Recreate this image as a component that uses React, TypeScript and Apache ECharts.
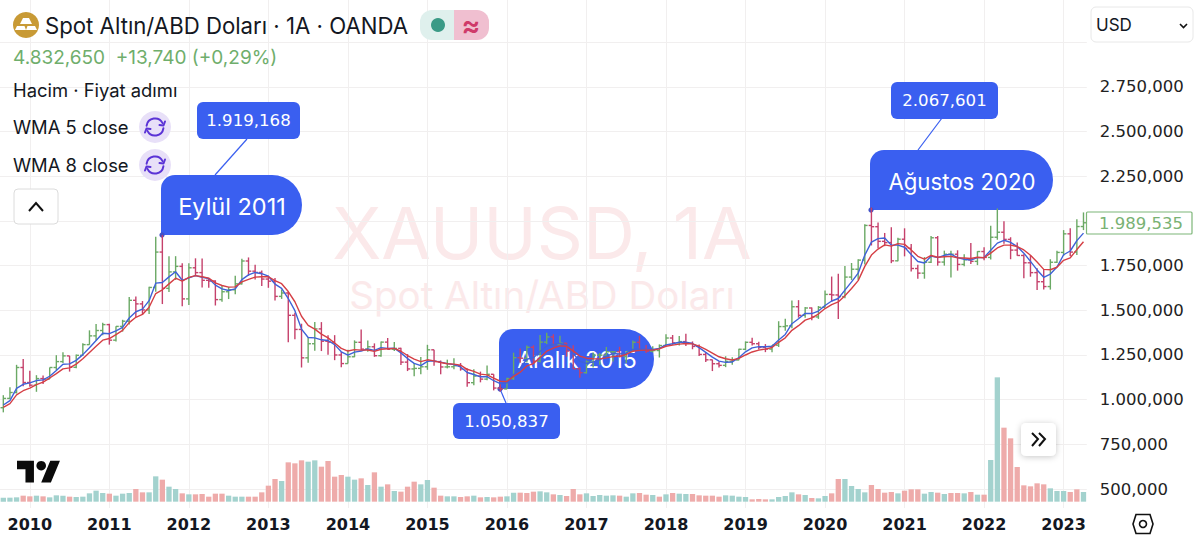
import React, { useEffect, useRef } from "react";
import * as echarts from "echarts";

const firstYear = 2009;
const firstMonth = 8; // September 2009, zero-based
const barCount = 164;

const opens = [955,1007,1040,1180,1096,
1081,1118,1115,1180,1213,1245,1181,1248,1308,1357,1387,1420,
1333,1410,1439,1556,1536,1502,1628,1826,1623,1715,1746,
1564,1738,1711,1668,1664,1560,1604,1615,1648,1776,1719,1712,
1675,1663,1578,1597,1472,1393,1234,1313,1396,1327,1322,1250,
1202,1240,1321,1283,1296,1246,1322,1282,1287,1210,1172,1175,
1184,1279,1213,1183,1184,1190,1172,1095,1132,1115,1142,1065,
1060,1118,1235,1232,1293,1215,1322,1351,1309,1316,1272,1173,
1151,1211,1249,1249,1268,1268,1242,1269,1321,1280,1271,1275,
1303,1345,1318,1325,1315,1298,1253,1223,1201,1192,1214,1222,
1282,1321,1313,1292,1283,1305,1409,1413,1520,1472,1513,1463,
1517,1589,1586,1577,1686,1730,1781,1975,1968,1886,1879,1777,
1898,1847,1734,1708,1769,1906,1770,1814,1814,1757,1783,1774,
1829,1796,1909,1937,1897,1837,1807,1766,1711,1660,1633,1769,
1824,1928,1826,1969];
const highs = [1025,1070,1195,1227,
1162,1137,1135,1180,1249,1265,1245,1253,1316,1388,1424,1431,
1425,1411,1447,1575,1577,1552,1632,1912,1921,1803,1803,1764,
1764,1791,1790,1677,1668,1642,1631,1693,1788,1796,1755,1723,
1694,1681,1617,1604,1487,1425,1348,1434,1434,1361,1361,1267,
1280,1332,1392,1331,1315,1325,1345,1323,1290,1255,1205,1239,
1307,1280,1219,1224,1232,1205,1174,1170,1157,1191,1142,1088,
1123,1263,1287,1303,1304,1362,1375,1366,1357,1318,1304,1182,
1220,1264,1261,1295,1270,1296,1270,1331,1357,1306,1299,1309,
1366,1362,1356,1369,1326,1309,1266,1224,1214,1243,1237,1285,
1326,1347,1324,1311,1305,1439,1453,1555,1557,1518,1516,1524,
1611,1689,1704,1748,1765,1786,1981,2075,1992,1933,1965,1906,
1959,1871,1755,1798,1916,1916,1834,1834,1836,1814,1877,1831,
1853,1974,2070,1998,1909,1879,1814,1808,1735,1730,1786,1833,
1949,1960,2009,2048];
const lows = [929,1003,1035,1075,
1072,1044,1088,1115,1165,1205,1157,1176,1244,1307,1330,1360,
1308,1325,1381,1420,1462,1478,1480,1604,1535,1603,1670,1523,
1530,1695,1628,1627,1527,1548,1563,1590,1644,1693,1672,1636,
1626,1555,1564,1321,1338,1180,1207,1274,1272,1251,1221,1182,
1202,1238,1277,1268,1240,1240,1280,1273,1194,1160,1131,1142,
1167,1190,1142,1175,1170,1162,1072,1080,1097,1108,1052,1046,
1060,1111,1207,1208,1199,1208,1311,1302,1305,1241,1171,1123,
1146,1180,1195,1240,1214,1236,1205,1267,1271,1261,1264,1236,
1302,1307,1303,1301,1282,1245,1211,1160,1180,1182,1196,1221,
1276,1303,1281,1266,1266,1295,1386,1400,1459,1459,1445,1452,
1517,1548,1451,1568,1670,1671,1757,1863,1848,1859,1764,1775,
1802,1717,1676,1677,1765,1750,1750,1684,1722,1746,1759,1753,
1780,1785,1895,1872,1786,1805,1680,1688,1614,1617,1616,1765,
1804,1804,1810,1949];
const closes = [1007,1040,1180,1096,
1081,1118,1115,1180,1213,1245,1181,1248,1308,1357,1387,1420,
1333,1410,1439,1556,1536,1502,1628,1826,1623,1715,1746,1564,
1738,1711,1668,1664,1560,1604,1615,1648,1776,1719,1712,1675,
1663,1578,1597,1472,1393,1234,1313,1396,1327,1322,1250,1202,
1240,1321,1283,1296,1246,1322,1282,1287,1210,1172,1175,1184,
1279,1213,1183,1184,1190,1172,1095,1132,1115,1142,1065,1060,
1118,1235,1232,1293,1215,1322,1351,1309,1316,1272,1173,1151,
1211,1249,1249,1268,1268,1242,1269,1321,1280,1271,1275,1303,
1345,1318,1325,1315,1298,1253,1223,1201,1192,1214,1222,1282,
1321,1313,1292,1283,1305,1409,1413,1520,1472,1513,1463,1517,
1589,1586,1577,1686,1730,1781,1975,1968,1886,1879,1777,1898,
1847,1734,1708,1769,1906,1770,1814,1814,1757,1783,1774,1829,
1796,1909,1937,1897,1837,1807,1766,1711,1660,1633,1769,1824,
1928,1826,1969,1990];
const wma5 = [970,995,1063,1086,1094,1107,1111,1131,1163,1198,1200,1220,1252,1291,1331,1372,1369,1385,1404,1457,
1492,1507,1554,1652,1656,1687,1716,1668,1682,1694,1685,1678,1641,1620,1611,1620,1672,1698,1712,1705,
1691,1647,1623,1566,1498,1395,1348,1346,1335,1331,1308,1268,1249,1266,1272,1284,1276,1291,1287,1288,
1262,1230,1203,1190,1214,1217,1210,1202,1196,1183,1152,1141,1128,1129,1106,1090,1095,1140,1176,1226,
1235,1270,1300,1309,1315,1305,1258,1214,1203,1211,1223,1244,1258,1256,1260,1281,1283,1281,1281,1287,
1306,1313,1321,1321,1314,1291,1265,1238,1216,1209,1211,1235,1268,1290,1297,1296,1299,1334,1365,1425,
1453,1483,1482,1496,1527,1552,1566,1613,1659,1708,1809,1882,1901,1905,1865,1865,1853,1812,1773,1765,
1803,1795,1808,1814,1795,1786,1781,1795,1796,1836,1876,1892,1880,1857,1820,1774,1726,1685,1703,1742,
1811,1832,1890,1932];
const wma8 = [957,978,1027,1050,1065,1084,1098,1121,1146,1172,1178,1199,1229,1264,1299,1333,1342,1364,1388,1431,
1461,1477,1517,1594,1615,1648,1680,1663,1684,1694,1688,1680,1654,1639,1630,1631,1659,1673,1686,1688,
1688,1666,1649,1605,1548,1467,1416,1395,1367,1346,1317,1287,1272,1280,1277,1278,1270,1282,1285,1287,
1271,1247,1227,1213,1223,1217,1208,1201,1199,1193,1170,1158,1143,1139,1120,1103,1102,1130,1154,1189,
1202,1236,1271,1289,1301,1299,1273,1244,1232,1229,1228,1234,1241,1244,1253,1271,1276,1277,1277,1284,
1299,1305,1311,1314,1312,1300,1282,1261,1240,1229,1222,1231,1250,1267,1277,1283,1292,1321,1346,1388,
1414,1445,1458,1479,1510,1532,1547,1582,1622,1666,1746,1809,1843,1866,1859,1873,1869,1838,1802,1787,
1807,1797,1800,1802,1794,1793,1790,1797,1794,1820,1849,1865,1865,1857,1838,1808,1770,1729,1727,1741,
1780,1794,1840,1884];
const volumes = [12,12,13,18,16,18,16,13,19,18,15,14,15,25,33,26,24,18,24,26,
38,28,28,76,66,45,38,25,22,22,23,15,24,24,18,15,15,15,15,28,
48,68,62,118,115,124,120,124,105,122,75,80,75,66,70,50,88,45,52,32,
30,45,60,52,65,42,18,16,16,14,16,18,13,14,13,15,16,27,27,26,
30,31,28,22,20,17,38,22,25,17,20,18,19,18,15,25,26,21,20,15,
22,26,24,23,23,19,18,18,15,19,18,15,14,7,8,7,7,14,17,28,
22,20,11,10,17,25,68,68,47,38,28,50,38,27,29,25,33,37,37,24,
29,27,23,26,26,25,29,21,21,125,373,222,190,104,49,46,55,52,40,32,
32,29,37,29];
const volumeDown = new Set([3,4,6,10,16,20,21,24,27,29,30,31,32,33,37,38,39,40,41,43,44,45,48,49,50,51,54,56,58,60,61,62,
65,66,69,70,72,74,75,78,79,80,83,85,86,87,93,96,97,99,101,104,105,106,107,108,113,114,115,120,122,125,126,131,132,133,134,136,137,138,141,143,144,146,148,151,152,153,154,155,156,157,161,162]);

const yearStarts = (i: number) => (firstMonth + i) % 12 === 0;
const categories: string[] = Array.from({ length: barCount }, (_, i) => {
  const m = firstMonth + i;
  return `${firstYear + Math.floor(m / 12)}-${String((m % 12) + 1).padStart(2, "0")}`;
});
const priceTicks = [500, 3000, 250];
const hiddenPriceLabels = [2000, 3000];

const INK = "#131722";
const BLUE = "#3a5ff0";
const GREEN = "#6ba965";
const CRIMSON = "#c5416b";
const UI = "Inter, 'Noto Sans', sans-serif";
const NUM = "'DejaVu Sans', sans-serif";

function formatTr(v: number) {
  return String(Math.round(v)).replace(/\B(?=(\d{3})+$)/g, ".") + ",000";
}

function bubble(x: number, y: number, w: number, h: number, text: string, size: number) {
  return [
    { type: "rect", z: 1, shape: { x, y, width: w, height: h, r: [14, 30, 30, 0] }, style: { fill: BLUE } },
    { type: "text", z: 1, style: { text, x: x + w / 2 + 0.5, y: y + h / 2 + 1, font: `${size}px ${UI}`, fill: "#fff", textAlign: "center", textVerticalAlign: "middle" } },
    { type: "circle", z: 3, shape: { cx: x + 1, cy: y + h, r: 2.6 }, style: { fill: "#4150c8" } },
  ];
}
function valueTag(x: number, y: number, w: number, h: number, text: string, lx1: number, ly1: number, lx2: number, ly2: number) {
  return [
    { type: "line", z: 1, shape: { x1: lx1, y1: ly1, x2: lx2, y2: ly2 }, style: { stroke: BLUE, lineWidth: 1.2 } },
    { type: "rect", z: 1, shape: { x, y, width: w, height: h, r: 6 }, style: { fill: BLUE } },
    { type: "text", z: 1, style: { text, x: x + w / 2, y: y + h / 2, font: `16.6px ${NUM}`, fill: "#fff", textAlign: "center", textVerticalAlign: "middle" } },
  ];
}
function label(text: string, x: number, y: number, font: string, fill: string, align = "left") {
  return { type: "text", z: 10, style: { text, x, y, font, fill, textAlign: align, textVerticalAlign: "middle" } };
}
function refresh(cx: number, cy: number) {
  const c = "#5b33d6";
  const s = { stroke: c, lineWidth: 2, fill: "none", lineCap: "round", lineJoin: "round" };
  return [
    { type: "circle", z: 10, shape: { cx, cy, r: 16 }, style: { fill: "#e8e0f8" } },
    { type: "arc", z: 10, shape: { cx, cy, r: 8.5, startAngle: Math.PI * 1.05, endAngle: Math.PI * 1.85 }, style: s },
    { type: "arc", z: 10, shape: { cx, cy, r: 8.5, startAngle: Math.PI * 0.05, endAngle: Math.PI * 0.85 }, style: s },
    { type: "polyline", z: 10, shape: { points: [[cx + 4.5, cy - 2], [cx + 8.5, cy - 1.5], [cx + 10, cy - 5.5]] }, style: s },
    { type: "polyline", z: 10, shape: { points: [[cx - 4.5, cy + 2], [cx - 8.5, cy + 1.5], [cx - 10, cy + 5.5]] }, style: s },
  ];
}

echarts.graphic.registerShape("tvmark", echarts.graphic.extendPath("M14 22H7V11H0V4h14v18zM28 22h-8l7.5-18h8L28 22z", {}));

function headerGraphics() {
  const gold = "#c89a35";
  return [
    { type: "text", z: 0, style: { text: "XAUUSD, 1A", x: 542, y: 232, font: `72px ${UI}`, fill: "#fbe9ea", textAlign: "center", textVerticalAlign: "middle" } },
    { type: "text", z: 0, style: { text: "Spot Altın/ABD Doları", x: 542, y: 295, font: `38.5px ${UI}`, fill: "#fbe9ea", textAlign: "center", textVerticalAlign: "middle" } },
    { type: "circle", z: 10, shape: { cx: 26, cy: 25, r: 13 }, style: { fill: gold } },
    { type: "polygon", z: 10, shape: { points: [[23, 18], [29, 18], [32, 24], [20, 24]] }, style: { fill: "#fff" } },
    { type: "polygon", z: 10, shape: { points: [[17, 26], [24.5, 26], [26, 30], [15, 30]] }, style: { fill: "#fff" } },
    { type: "polygon", z: 10, shape: { points: [[27.5, 26], [35, 26], [37, 30], [26, 30]] }, style: { fill: "#fff" } },
    label("Spot Altın/ABD Doları · 1A · OANDA", 45, 25, `22.2px ${UI}`, INK),
    { type: "rect", z: 10, shape: { x: 420, y: 10, width: 34, height: 30, r: [12, 0, 0, 12] }, style: { fill: "#dff0ed" } },
    { type: "rect", z: 10, shape: { x: 454, y: 10, width: 35, height: 30, r: [0, 12, 12, 0] }, style: { fill: "#f0bfd0" } },
    { type: "circle", z: 10, shape: { cx: 438, cy: 25, r: 7 }, style: { fill: "#3a9a86" } },
    label("≈", 471, 25, `600 28px ${UI}`, "#cf3a6a", "center"),
    label("4.832,650  +13,740 (+0,29%)", 13, 57, `19px ${UI}`, "#6fae6c"),
    label("Hacim · Fiyat adımı", 13, 90, `18.4px ${UI}`, INK),
    label("WMA 5 close", 13, 127, `18.4px ${UI}`, INK),
    label("WMA 8 close", 13, 165, `18.4px ${UI}`, INK),
    ...refresh(155, 127),
    ...refresh(155, 165),
    { type: "rect", z: 10, shape: { x: 14, y: 189, width: 44, height: 35, r: 4 }, style: { fill: "#fff", stroke: "#dcdcdc", lineWidth: 1 } },
    { type: "polyline", z: 10, shape: { points: [[29, 211], [36, 203], [43, 211]] }, style: { stroke: "#111", lineWidth: 2, fill: "none" } },
    { type: "rect", z: 10, shape: { x: 1091, y: 7, width: 102, height: 35, r: 5 }, style: { fill: "#fff", stroke: "#e8e8e8", lineWidth: 1 } },
    label("USD", 1096, 25, `17px ${UI}`, INK),
    { type: "polyline", z: 10, shape: { points: [[1180, 24], [1183.5, 27.5], [1187, 24]] }, style: { stroke: "#111", lineWidth: 1.6, fill: "none" } },
    { type: "rect", z: 10, shape: { x: 1086.5, y: 212, width: 105.5, height: 22, r: 1 }, style: { fill: "#fff", stroke: "#7db678", lineWidth: 1.2 } },
    label("1.989,535", 1099, 223, `16.5px ${NUM}`, "#79b274"),
    { type: "tvmark", z: 10, x: 17, y: 456, scaleX: 1.21, scaleY: 1.21, style: { fill: "#0b0b0b" } },
    { type: "circle", z: 10, shape: { cx: 41.2, cy: 465.7, r: 4.8 }, style: { fill: "#0b0b0b" } },
    { type: "rect", z: 10, shape: { x: 1021, y: 423, width: 35, height: 33, r: 5 }, style: { fill: "#fff", shadowBlur: 6, shadowColor: "rgba(0,0,0,0.22)", shadowOffsetY: 1 } },
    { type: "polyline", z: 10, shape: { points: [[1032, 433], [1038, 439], [1032, 446]] }, style: { stroke: "#111", lineWidth: 2, fill: "none" } },
    { type: "polyline", z: 10, shape: { points: [[1039, 433], [1045, 439], [1039, 446]] }, style: { stroke: "#111", lineWidth: 2, fill: "none" } },
    { type: "polygon", z: 10, shape: { points: [[1136, 514.5], [1150, 514.5], [1153, 524], [1150, 533.5], [1136, 533.5], [1133, 524]] }, style: { fill: "none", stroke: "#111", lineWidth: 1.6 } },
    { type: "circle", z: 10, shape: { cx: 1143, cy: 524, r: 3.5 }, style: { fill: "none", stroke: "#111", lineWidth: 1.6 } },
  ];
}

export default function App() {
  const ref = useRef<HTMLDivElement | null>(null);
  useEffect(() => {
    const chart = echarts.init(ref.current!, undefined, { renderer: "svg" });
    const gridColor = "#f1efef";
    const ohlc = categories.map((_, i) => [i, opens[i], highs[i], lows[i], closes[i]]);
    chart.setOption({
      animation: false,
      backgroundColor: "#fff",
      textStyle: { fontFamily: UI },
      grid: [
        { left: -0.5, top: 42.3, width: 1087.3, height: 446.7 },
        { left: -0.5, top: 0, width: 1087.3, height: 508 },
      ],
      xAxis: [
        { type: "category", gridIndex: 0, data: categories, show: false },
        {
          type: "category", gridIndex: 1, data: categories,
          axisLine: { show: false }, axisTick: { show: false },
          axisLabel: { interval: (i: number) => yearStarts(i), formatter: (v: string) => v.slice(0, 4), color: INK, fontFamily: NUM, fontSize: 16, fontWeight: "bold", margin: 8 },
          splitLine: { show: true, interval: (i: number) => yearStarts(i), alignWithLabel: true, lineStyle: { color: gridColor, width: 1 } },
        },
      ],
      yAxis: [
        {
          type: "value", gridIndex: 0, position: "right", min: priceTicks[0], max: priceTicks[1], interval: priceTicks[2],
          axisLine: { show: false }, axisTick: { show: false },
          axisLabel: { margin: 13, color: "#222", fontFamily: NUM, fontSize: 16.5, formatter: (v: number) => (hiddenPriceLabels.includes(v) ? "" : formatTr(v)) },
          splitLine: { show: true, lineStyle: { color: gridColor, width: 1 } },
        },
        { type: "value", gridIndex: 1, min: -19, max: 1505, show: false },
      ],
      series: [
        {
          type: "bar", name: "Hacim", xAxisIndex: 1, yAxisIndex: 1, barWidth: 5.3, z: 2,
          data: volumes.map((v, i) => ({ value: v, itemStyle: { color: volumeDown.has(i) ? "#eeabaa" : "#a3d2ce" } })),
        },
        {
          type: "custom", name: "XAUUSD", xAxisIndex: 0, yAxisIndex: 0, z: 3, encode: { x: 0, y: [1, 2, 3, 4] }, data: ohlc,
          renderItem: (_p: any, api: any) => {
            const i = api.value(0);
            const o = api.coord([i, api.value(1)]);
            const h = api.coord([i, api.value(2)]);
            const l = api.coord([i, api.value(3)]);
            const c = api.coord([i, api.value(4)]);
            const color = api.value(4) >= api.value(1) ? GREEN : CRIMSON;
            const st = { stroke: color, lineWidth: 1.4 };
            return {
              type: "group",
              children: [
                { type: "line", shape: { x1: h[0], y1: h[1], x2: l[0], y2: l[1] }, style: st },
                { type: "line", shape: { x1: o[0] - 2.8, y1: o[1], x2: o[0], y2: o[1] }, style: st },
                { type: "line", shape: { x1: c[0], y1: c[1], x2: c[0] + 2.8, y2: c[1] }, style: st },
              ],
            };
          },
        },
        { type: "line", name: "WMA 5 close", xAxisIndex: 0, yAxisIndex: 0, z: 4, data: wma5, showSymbol: false, lineStyle: { color: "#3f62d8", width: 1.4 } },
        { type: "line", name: "WMA 8 close", xAxisIndex: 0, yAxisIndex: 0, z: 5, data: wma8, showSymbol: false, lineStyle: { color: "#d53f45", width: 1.4 } },
      ],
      graphic: {
        elements: [
          ...headerGraphics(),
          ...valueTag(197, 102, 103, 37, "1.919,168", 247, 139, 215, 175),
          ...bubble(161, 175, 141, 60, "Eylül 2011", 23.5),
          ...valueTag(891, 82, 107, 37, "2.067,601", 942, 118, 918, 150),
          ...bubble(870, 150, 183, 60, "Ağustos 2020", 22.2),
          ...valueTag(453, 403, 107, 36, "1.050,837", 506, 403, 500, 389),
          ...bubble(499, 329, 155, 60, "Aralık 2015", 23),
        ],
      },
    });
    return () => chart.dispose();
  }, []);
  return <div ref={ref} style={{ position: "absolute", left: 0, top: 0, width: 1200, height: 543 }} />;
}
